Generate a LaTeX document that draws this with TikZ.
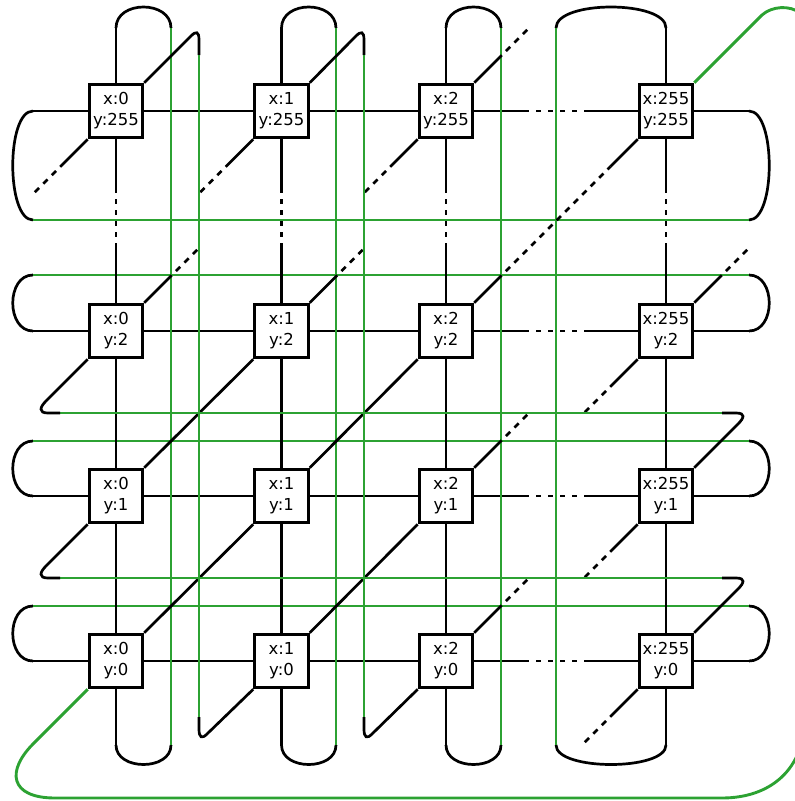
\documentclass[tikz,border=0pt]{standalone}
\usepackage{fontspec}
\setmainfont{DejaVu Sans}
\usetikzlibrary{calc}
\definecolor{wgreen}{RGB}{44,162,50}
\begin{document}
\begin{tikzpicture}[x=1pt,y=-1pt,
  wire/.style={line width=2.7pt,draw=black},
  gwire/.style={line width=2.9pt,draw=wgreen},
  elideh/.style={wire,dash pattern=on 5pt off 7pt,dash phase=5pt},
  elidev/.style={wire,dash pattern=on 5pt off 6pt,dash phase=5pt},
  elided/.style={wire,dash pattern=on 6pt off 6pt,dash phase=6pt},
  pe/.style={draw,line width=3.1pt,fill=white,minimum size=53.4pt,inner sep=0pt,
    align=center,font=\fontsize{16.5}{21}\selectfont}]
\useasboundingbox (0,0) rectangle (795,801);
\clip (0,0) rectangle (795,801);

% nodes
\foreach \c/\X/\xl in {0/116/0,1/281.5/1,2/446/2,3/666/255}{
  \foreach \r/\Y/\yl in {0/661/0,1/496/1,2/331/2,3/111/255}{
    \node[pe] (n\c\r) at (\X,\Y) {x:\xl\\y:\yl};
  }
}

% rows (x direction) with wrap-around
\foreach \r/\Y/\G in {3/111/220,2/331/275,1/496/441,0/661/606}{
  \coordinate (rl\r) at (33,\Y);
  \coordinate (rr\r) at (749,\Y);
  \coordinate (gl\r) at (33,\G);
  \coordinate (gr\r) at (749,\G);
  \coordinate (ea\r) at (529,\Y);
  \coordinate (eb\r) at (584,\Y);
  \draw[wire] (rl\r) -- (n0\r.west) (n0\r.east) -- (n1\r.west)
    (n1\r.east) -- (n2\r.west) (n2\r.east) -- (ea\r)
    (eb\r) -- (n3\r.west) (n3\r.east) -- (rr\r);
  \draw[elideh] (ea\r) -- (eb\r);
  \draw[wire] (rl\r) .. controls +(-27,0) and +(-27,0) .. (gl\r);
  \draw[wire] (rr\r) .. controls +(27,0) and +(27,0) .. (gr\r);
  \draw[gwire] (gl\r) -- (gr\r);
}

% columns (y direction) with wrap-around
\foreach \c/\X/\G in {0/116/171,1/281.5/336,2/446/501,3/666/556}{
  \coordinate (ct\c) at (\X,28);
  \coordinate (cb\c) at (\X,745);
  \coordinate (gt\c) at (\G,28);
  \coordinate (gb\c) at (\G,745);
  \coordinate (va\c) at (\X,193);
  \coordinate (vb\c) at (\X,243);
  \draw[wire] (n\c3.north) -- (ct\c) (n\c3.south) -- (va\c)
    (vb\c) -- (n\c2.north) (n\c2.south) -- (n\c1.north)
    (n\c1.south) -- (n\c0.north) (n\c0.south) -- (cb\c);
  \draw[elidev] (va\c) -- (vb\c);
  \draw[wire] (ct\c) .. controls +(0,-28) and +(0,-28) .. (gt\c);
  \draw[wire] (cb\c) .. controls +(0,26) and +(0,26) .. (gb\c);
  \draw[gwire] (gt\c) -- (gb\c);
}

% diagonal links
\draw[wire] (n00.north east) -- (n11.south west);
\draw[wire] (n01.north east) -- (n12.south west);
\draw[wire] (n10.north east) -- (n21.south west);
\draw[wire] (n11.north east) -- (n22.south west);
\coordinate (ld1) at ($(n22.north east)!0.167!(n33.south west)$);
\coordinate (ld2) at ($(n22.north east)!0.833!(n33.south west)$);
\draw[wire] (n22.north east) -- (ld1) (ld2) -- (n33.south west);
\draw[elided] (ld1) -- (ld2);

% elided diagonal stubs
\foreach \n/\a/\dx/\dy in {03/south west/-1/1,13/south west/-1/1,23/south west/-1/1,
    32/south west/-1/1,31/south west/-1/1,30/south west/-1/1,
    02/north east/1/-1,12/north east/1/-1,23/north east/1/-1,
    21/north east/1/-1,20/north east/1/-1,32/north east/1/-1}{
  \path (n\n.\a) ++(27.5*\dx,27.5*\dy) coordinate (sm) ++(27.5*\dx,27.5*\dy) coordinate (se);
  \draw[wire] (n\n.\a) -- (sm);
  \draw[elided] (sm) -- (se);
}

% diagonal wrap through top/bottom
\foreach \c/\d/\X in {0/1/199,1/2/364}{
  \coordinate (wa\c) at (\X,55);
  \coordinate (wb\c) at (\X,717);
  \draw[wire] (n\c3.north east) -- (\X-8,36) .. controls (\X-3,31) and (\X,31) .. (\X,40) -- (wa\c);
  \draw[gwire] (wa\c) -- (wb\c);
  \draw[wire] (wb\c) -- (\X,729) .. controls (\X,738) and (\X+3,739) .. (\X+8,734) -- (n\d0.south west);
}

% diagonal wrap through right/left
\foreach \s/\t/\H in {1/2/413,0/1/578}{
  \coordinate (ha\s) at (722,\H);
  \coordinate (hb\s) at (60,\H);
  \draw[wire] (n3\s.north east) -- (738,\H+11) .. controls (744,\H+5) and (746,\H) .. (736,\H) -- (ha\s);
  \draw[gwire] (ha\s) -- (hb\s);
  \draw[wire] (hb\s) -- (48,\H) .. controls (38,\H) and (40,\H-6) .. (46,\H-12) -- (n0\t.south west);
}

% corner wrap (255,255) -> (0,0)
\draw[gwire] (n33.north east) -- (762,15) .. controls (772,6) and (790,5) .. (800,13)
  .. controls (803,16) and (805,22) .. (805,32) -- (805,716)
  .. controls (805,770) and (770,798) .. (722,798) -- (55,798)
  .. controls (10,798) and (5,771) .. (35,742) -- (n00.south west);
\end{tikzpicture}
\end{document}
